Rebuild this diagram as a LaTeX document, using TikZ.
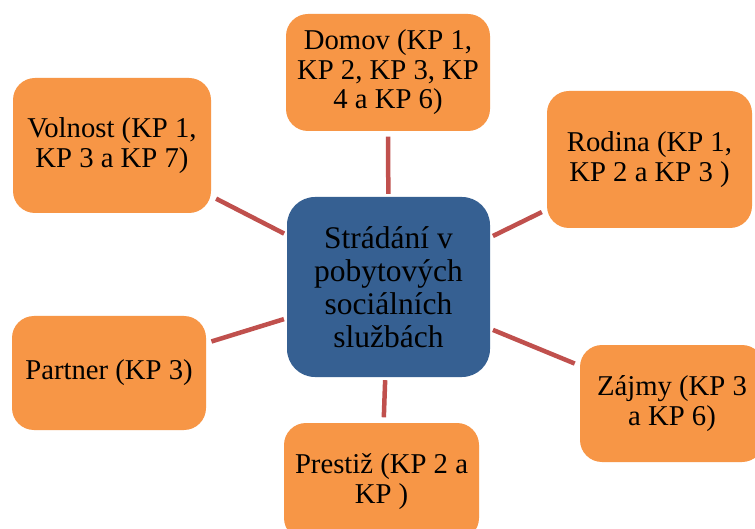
\documentclass[tikz,border=0pt]{standalone}
\usepackage{fontspec}
\setmainfont{Liberation Serif}
\definecolor{boxorange}{HTML}{F79646}
\definecolor{hubblue}{HTML}{366092}
\definecolor{linkred}{HTML}{C0504D}
\begin{document}
\begin{tikzpicture}[x=1pt,y=-1pt,
  topic/.style={fill=boxorange, rounded corners=22pt, inner sep=0pt, align=center,
    font=\fontsize{28.7}{29.5}\selectfont},
  hub/.style={fill=hubblue, rounded corners=28pt, inner sep=0pt, align=center,
    minimum width=203pt, minimum height=180pt, font=\fontsize{31.5}{33}\selectfont},
  link/.style={draw=linkred, line width=4.5pt, shorten <=5.5pt, shorten >=3pt}]
  \clip (0,0) rectangle (755,529);
  \fill[white] (0,0) rectangle (755,529);

  % central theme
  \node[hub] (c) at (388.5,287) {Strádání v\\pobytových\\sociálních\\službách};

  % surrounding areas
  \node[topic, minimum width=204pt, minimum height=117pt] (domov) at (388,72.5)
    {Domov (KP 1,\\KP 2, KP 3, KP\\4 a KP 6)};
  \node[topic, minimum width=205pt, minimum height=137pt] (rodina) at (649.5,159.5)
    {Rodina (KP 1,\\KP 2 a KP 3 )};
  \node[topic, minimum width=198pt, minimum height=135pt] (volnost) at (112,145.5)
    {Volnost (KP 1,\\KP 3 a KP 7)};
  \node[topic, minimum width=194pt, minimum height=114pt] (partner) at (109,373)
    {Partner (KP 3)};
  \node[topic, minimum width=184pt, minimum height=117pt] (zajmy) at (672,403.5)
    {Zájmy (KP 3\\a KP 6)};
  \node[topic, minimum width=195pt, minimum height=117pt] (prestiz) at (381.5,481.5)
    {Prestiž (KP 2 a\\KP )};

  % spokes from each area to the centre
  \foreach \n in {domov,rodina,volnost,partner,zajmy,prestiz}
    \draw[link] (\n) -- (c);
\end{tikzpicture}
\end{document}
